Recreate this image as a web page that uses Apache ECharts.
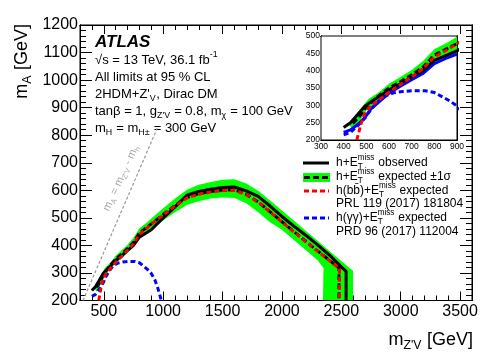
<!DOCTYPE html>
<html>
<head>
<meta charset="utf-8">
<script src="https://cdn.jsdelivr.net/npm/echarts@6.0.0/dist/echarts.min.js"></script>
<style>
  html, body { margin: 0; padding: 0; background: #fff; }
  #chart { width: 498px; height: 358px; }
</style>
</head>
<body>
<div id="chart"></div>
<script>
// tick labels
var xTicks = [500, 1000, 1500, 2000, 2500, 3000, 3500];
var yTicks = [200, 300, 400, 500, 600, 700, 800, 900, 1000, 1100, 1200];
var insetXTicks = [300, 400, 500, 600, 700, 800, 900];
var insetYTicks = [200, 250, 300, 350, 400, 450, 500];

// limit contours [mZ', mA] in GeV
var observed = [[400,236],[430,250],[460,272],[495,298],[520,310],[560,327],[600,345],[650,362],[700,382],[750,400],[800,430],[860,446],[900,457],[1000,500],[1100,540],[1200,582],[1300,596],[1400,604],[1500,610],[1600,612],[1700,598],[1800,578],[1900,543],[2000,505],[2100,470],[2200,437],[2300,402],[2400,365],[2500,322],[2540,306],[2540,200]];
var expected = [[440,248],[470,268],[500,296],[550,325],[600,350],[650,368],[700,388],[750,410],[800,445],[860,465],[900,478],[1000,512],[1100,545],[1200,574],[1300,588],[1400,596],[1500,601],[1600,602],[1700,585],[1800,558],[1900,522],[2000,486],[2100,450],[2200,415],[2300,380],[2400,346],[2480,318],[2480,200]];
var bandUp = [[420,246],[450,270],[480,295],[510,318],[560,340],[600,362],[650,382],[700,402],[750,428],[800,462],[860,482],[900,498],[1000,535],[1100,570],[1200,602],[1300,620],[1400,630],[1500,638],[1600,640],[1700,625],[1800,598],[1900,563],[2000,527],[2100,490],[2200,453],[2300,417],[2400,380],[2500,343],[2598,308],[2598,200]];
var bandLo = [[440,232],[470,255],[500,285],[550,312],[600,335],[650,352],[700,372],[750,392],[800,425],[860,445],[900,462],[1000,490],[1100,520],[1200,547],[1300,560],[1400,570],[1500,574],[1600,572],[1700,553],[1800,520],[1900,484],[2000,457],[2100,420],[2200,383],[2300,346],[2350,318],[2345,200]];
var bbExpected = [[458,200],[468,225],[480,255],[495,280],[520,298],[560,318],[600,338],[650,360],[700,382],[750,406],[800,440],[860,462],[900,478],[1000,510],[1100,543],[1200,572],[1300,586],[1400,594],[1500,599],[1600,600],[1700,584],[1800,557],[1900,521],[2000,485],[2100,449],[2200,414],[2300,379],[2400,345],[2485,315],[2485,200]];
var ggExpected = [[400,215],[430,222],[465,243],[495,264],[520,288],[550,310],[580,326],[620,336],[660,340],[700,342],[760,342],[800,337],[840,323],[870,312],[900,298],[930,275],[955,245],[975,215],[985,200]];
var ggUpper = [[400,222],[430,229],[465,246],[495,266],[520,290],[560,312],[600,335],[650,355],[700,374],[750,392],[800,420],[860,438],[900,448]];
var kinLimit = [[325,200],[950,825]];

var FONT = '"Liberation Sans", Arial, Helvetica, sans-serif';

function range(a, b, s) { var r = []; for (var v = a; v <= b + 1e-9; v += s) r.push(v); return r; }

function axis(grid, pos, vals, len, show, min, max, fs, margin) {
  return {
    type: 'value', gridIndex: grid, position: pos, min: min, max: max,
    axisLine: { show: true, onZero: false, lineStyle: { color: '#000', width: 1 } },
    splitLine: { show: false },
    axisTick: { show: true, inside: true, length: len, customValues: vals, lineStyle: { color: '#000', width: 1 } },
    axisLabel: { show: show, customValues: vals, fontSize: fs, color: '#000', fontFamily: FONT, margin: margin,
      formatter: function (v) { return String(v); } }
  };
}

var xAxes = [
  axis(0, 'bottom', xTicks, 9, true, 300, 3600, 16, 3),
  axis(0, 'bottom', range(300, 3600, 100), 5, false, 300, 3600),
  axis(0, 'top', xTicks, 9, false, 300, 3600),
  axis(0, 'top', range(300, 3600, 100), 5, false, 300, 3600),
  axis(1, 'bottom', insetXTicks, 4, true, 300, 900, 8.5, 2),
  axis(1, 'bottom', range(300, 900, 20), 2, false, 300, 900),
  axis(1, 'top', insetXTicks, 4, false, 300, 900),
  axis(1, 'top', range(300, 900, 20), 2, false, 300, 900)
];
var yAxes = [
  axis(0, 'left', yTicks, 12, true, 200, 1200, 16, 2),
  axis(0, 'left', range(200, 1200, 20), 6, false, 200, 1200),
  axis(0, 'right', yTicks, 12, false, 200, 1200),
  axis(0, 'right', range(200, 1200, 20), 6, false, 200, 1200),
  axis(1, 'left', insetYTicks, 4, true, 200, 500, 8.5, 1),
  axis(1, 'left', range(200, 500, 10), 2, false, 200, 500),
  axis(1, 'right', insetYTicks, 4, false, 200, 500),
  axis(1, 'right', range(200, 500, 10), 2, false, 200, 500)
];

function bandSeries(ai) {
  return {
    type: 'custom', xAxisIndex: ai, yAxisIndex: ai, silent: true, z: 1, clip: true,
    data: [bandUp[0]],
    renderItem: function (params, api) {
      var pts = bandUp.concat(bandLo.slice().reverse()).map(function (p) { return api.coord(p); });
      var cs = params.coordSys;
      return {
        type: 'polygon', shape: { points: pts }, style: { fill: '#00ff00' },
        clipPath: { type: 'rect', shape: { x: cs.x, y: cs.y, width: cs.width, height: cs.height } }
      };
    }
  };
}
function lineSeries(ai, data, color, width, dash, z) {
  return {
    type: 'line', xAxisIndex: ai, yAxisIndex: ai, data: data, symbol: 'none', silent: true, z: z,
    lineStyle: { color: color, width: width, type: dash || 'solid', cap: 'butt' }
  };
}

function seriesFor(ai, inset) {
  var s = [bandSeries(ai)];
  if (!inset) s.push(lineSeries(ai, kinLimit, '#999', 1.2, [3, 2], 2));
  s.push(lineSeries(ai, ggExpected, '#0000ff', 3, [5, 3], 3));
  if (inset) s.push(lineSeries(ai, ggUpper, '#0000ff', 3, 'solid', 3));
  s.push(lineSeries(ai, observed, '#000', 3, 'solid', 4));
  s.push(lineSeries(ai, expected, '#000', 3, [6, 3], 5));
  s.push(lineSeries(ai, bbExpected, '#ff0000', 3, [5, 3], 6));
  return s;
}

// text with sub/superscripts
var cv = document.createElement('canvas').getContext('2d');
function textW(s, fs, weight, style) {
  cv.font = (style || 'normal') + ' ' + (weight || 'normal') + ' ' + fs + 'px ' + FONT;
  return cv.measureText(s).width;
}
function tx(x, y, s, fs, color, weight, style) {
  return {
    type: 'text', x: x, y: y, silent: true,
    style: { text: s, fontSize: fs, fontFamily: FONT, fill: color || '#000', verticalAlign: 'middle', align: 'left',
      fontWeight: weight || 'normal', fontStyle: style || 'normal' }
  };
}
function rich(x, y, parts, fs, color) {
  var out = [], cx = x, sm = fs * 0.68;
  parts.forEach(function (p) {
    if (typeof p === 'string') { out.push(tx(cx, y, p, fs, color)); cx += textW(p, fs); return; }
    var w = 0;
    if (p.sup != null) { out.push(tx(cx, y - fs * 0.42, p.sup, sm, color)); w = Math.max(w, textW(p.sup, sm)); }
    if (p.sub != null) { out.push(tx(cx, y + fs * 0.32, p.sub, sm, color)); w = Math.max(w, textW(p.sub, sm)); }
    cx += w + 0.5;
  });
  return { els: out, w: cx - x };
}

var g = [];
g.push(tx(95, 42, 'ATLAS', 17, '#000', 'bold', 'italic'));
g = g.concat(rich(95, 60, ['\u221As = 13 TeV, 36.1 fb', { sup: '-1' }], 13).els);
g = g.concat(rich(95, 77, ['All limits at 95 % CL'], 13).els);
g = g.concat(rich(95, 94, ["2HDM+Z'", { sub: 'V' }, ', Dirac DM'], 13).els);
g = g.concat(rich(95, 111, ['tan\u03B2 = 1, g', { sub: "Z'V" }, ' = 0.8, m', { sub: '\u03C7' }, ' = 100 GeV'], 13).els);
g = g.concat(rich(95, 128, ['m', { sub: 'H' }, ' = m', { sub: 'H\u00B1' }, ' = 300 GeV'], 13).els);

// legend
var LX = 336;
g.push({ type: 'line', silent: true, shape: { x1: 303, y1: 163, x2: 329, y2: 163 }, style: { stroke: '#000', lineWidth: 3 } });
g.push({ type: 'rect', silent: true, shape: { x: 303, y: 173, width: 27, height: 9 }, style: { fill: '#00ff00' } });
g.push({ type: 'line', silent: true, shape: { x1: 304, y1: 177.5, x2: 329, y2: 177.5 }, style: { stroke: '#000', lineWidth: 3, lineDash: [6, 3] } });
g.push({ type: 'line', silent: true, shape: { x1: 304, y1: 191, x2: 329, y2: 191 }, style: { stroke: '#ff0000', lineWidth: 3, lineDash: [5, 3] } });
g.push({ type: 'line', silent: true, shape: { x1: 304, y1: 218, x2: 329, y2: 218 }, style: { stroke: '#0000ff', lineWidth: 3, lineDash: [5, 3] } });
g = g.concat(rich(LX, 163, ['h+E', { sup: 'miss', sub: 'T' }, ' observed'], 12).els);
g = g.concat(rich(LX, 177, ['h+E', { sup: 'miss', sub: 'T' }, ' expected \u00B11\u03C3'], 12).els);
g = g.concat(rich(LX, 191, ['h(bb\u0304)+E', { sup: 'miss', sub: 'T' }, ' expected'], 12).els);
g = g.concat(rich(LX, 204, ['PRL 119 (2017) 181804'], 12).els);
g = g.concat(rich(LX, 218, ['h(\u03B3\u03B3)+E', { sup: 'miss', sub: 'T' }, ' expected'], 12).els);
g = g.concat(rich(LX, 232, ['PRD 96 (2017) 112004'], 12).els);

// axis titles
var xt = rich(0, 0, ['m', { sub: "Z'V" }, ' [GeV]'], 18);
g.push({ type: 'group', x: 473 - xt.w, y: 340, children: xt.els });
var yt = rich(0, 0, ['m', { sub: 'A' }, ' [GeV]'], 18);
g.push({ type: 'group', x: 22, y: 24 + yt.w, rotation: Math.PI / 2, children: yt.els });

// kinematic limit label
var kt = rich(0, 0, ['m', { sub: 'A' }, ' = m', { sub: "Z'V" }, ' - m', { sub: 'h' }], 11, '#aaa');
kt.els.forEach(function (e) { e.x -= kt.w / 2; });
g.push({ type: 'group', x: 121, y: 178, rotation: 1.14, children: kt.els });

var chart = echarts.init(document.getElementById('chart'), null, { renderer: 'canvas' });
chart.setOption({
  animation: false,
  backgroundColor: '#fff',
  grid: [
    { left: 80, top: 25, width: 392, height: 275.5, show: true, borderColor: '#000', borderWidth: 1, backgroundColor: 'transparent', outerBoundsMode: 'none', containLabel: false },
    { left: 321, top: 36, width: 136, height: 104, show: true, borderColor: '#000', borderWidth: 1, backgroundColor: '#fff', outerBoundsMode: 'none', containLabel: false, z: 10 }
  ],
  xAxis: xAxes,
  yAxis: yAxes,
  series: seriesFor(0, false).concat(seriesFor(4, true).map(function (s) { s.z += 20; return s; })),
  graphic: g
});
</script>
</body>
</html>
